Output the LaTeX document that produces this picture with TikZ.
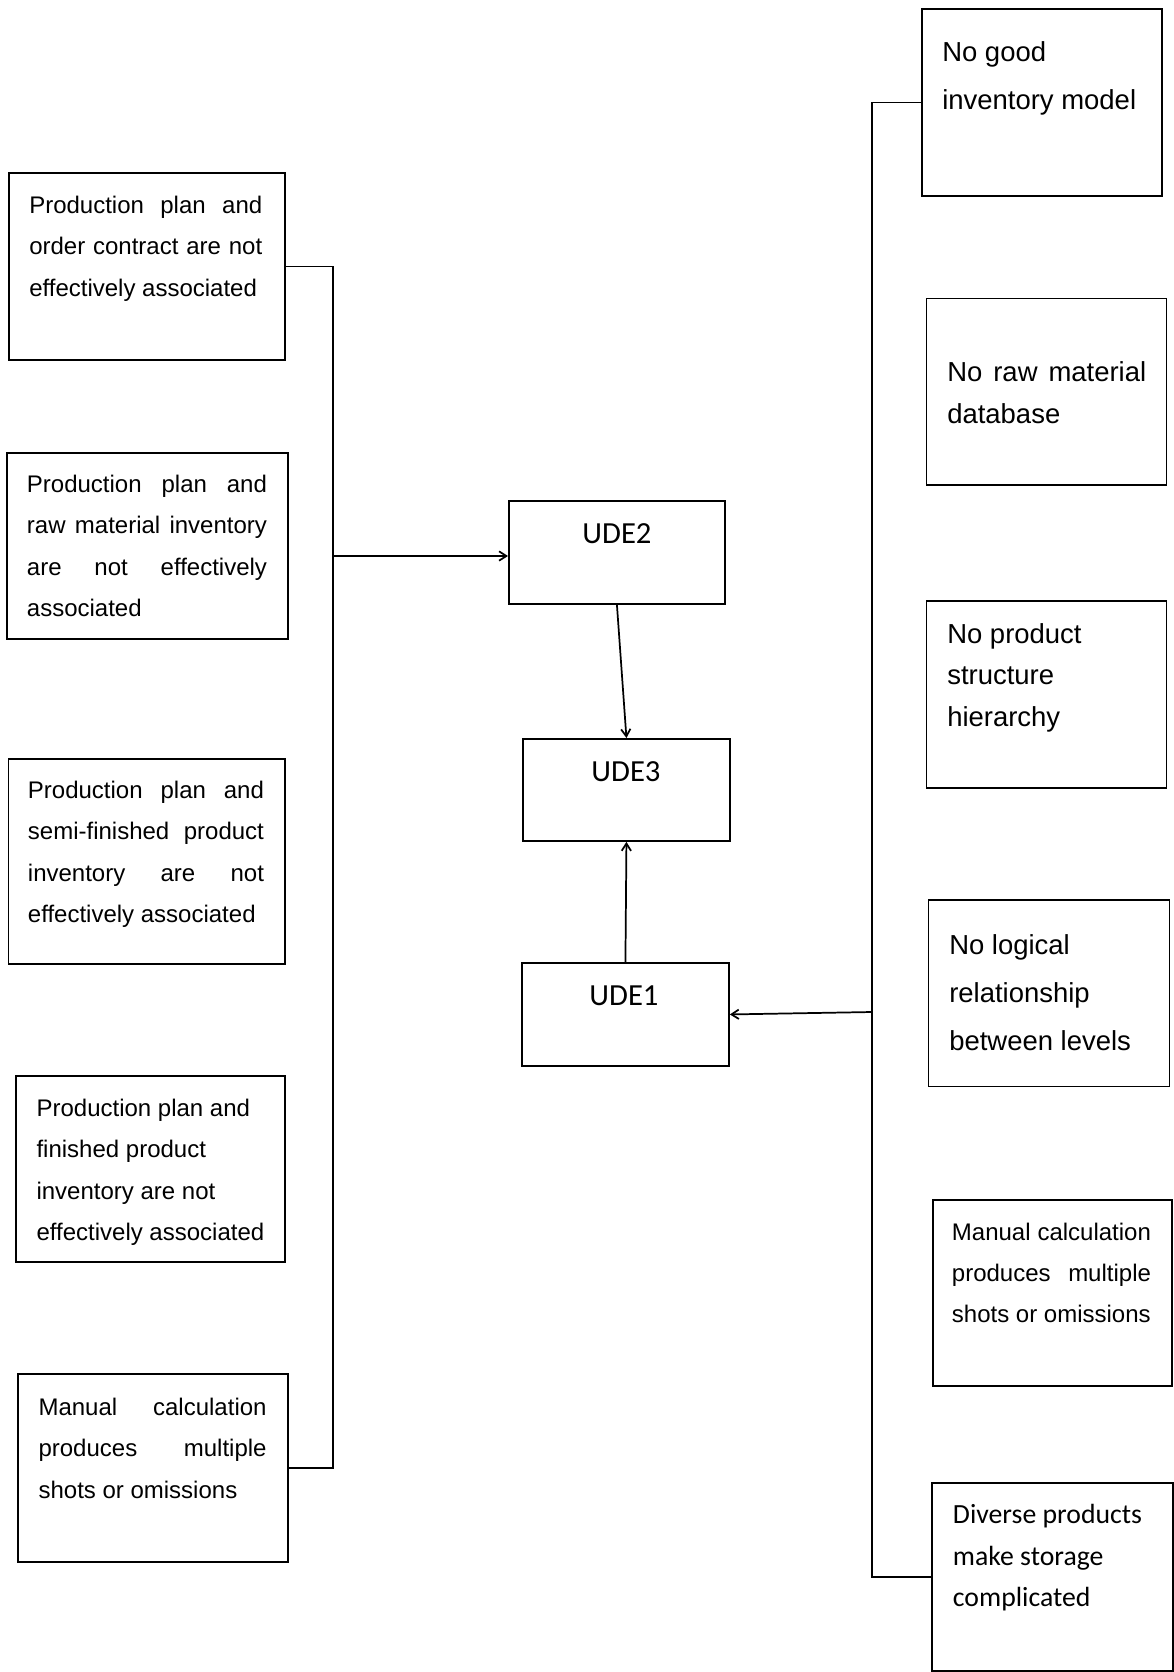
\documentclass[tikz,border=0pt]{standalone}
\usepackage{fontspec}
\setmainfont{Liberation Sans}
\newfontfamily\carlito{Carlito}
\usetikzlibrary{arrows.meta}

% one drawing unit = one pixel of the layout grid
\newdimen\upx \upx=0.75pt
% a line stretched to a given width (justified), width in grid units
\newcommand\jl[2]{\makebox[#1\upx][s]{#2}}
% a single line of a multi-line label
\newcommand\tline[1]{\hbox{#1}}
% framed box from top-left (x1,y1) to bottom-right (x2,y2)
\newcommand\boxnode[5]{\node[box, minimum width={(#4-#2)*0.75pt}, minimum height={(#5-#3)*0.75pt}] (#1) at (#2,#3) {};}

\tikzset{
  box/.style={draw, line width=1.4pt, inner sep=0pt, anchor=north west},
  txt/.style={anchor=base west, inner sep=0pt},
  lefttxt/.style={txt, font=\fontsize{18pt}{31.2pt}\selectfont},
  bigtxt/.style={txt, font=\fontsize{20.6pt}{#1}\selectfont},
  calctxt/.style={txt, font=\fontsize{18pt}{30.8pt}\selectfont},
  caltxt/.style={txt, font=\carlito\fontsize{20.8pt}{31.2pt}\selectfont},
  udetxt/.style={anchor=base, inner sep=0pt, font=\carlito\fontsize{23pt}{28pt}\selectfont},
  link/.style={line width=1.4pt},
  arr/.style={line width=1.3pt, -{Straight Barb[length=5.5pt,width=7pt]}},
}

\begin{document}
\begin{tikzpicture}[x=0.75pt, y=-0.75pt]
\fill[white] (0,0) rectangle (1174,1672);
\useasboundingbox (0,0) rectangle (1174,1672);

% left column of causes
\boxnode{l1}{8}{172}{284}{359}
\boxnode{l2}{6}{452}{287}{638}
\boxnode{l3}{7.5}{758}{284}{963}
\boxnode{l4}{15}{1075}{284}{1261}
\boxnode{l5}{17}{1373}{287}{1561}

\node[lefttxt] (l1t) at (29,213) {\vtop{%
  \tline{\jl{233}{Production plan and}}
  \tline{\jl{233}{order contract are not}}
  \tline{effectively associated}}};
\node[lefttxt] (l2t) at (26.7,492) {\vtop{%
  \tline{\jl{240}{Production plan and}}
  \tline{\jl{240}{raw material inventory}}
  \tline{\jl{240}{are not effectively}}
  \tline{associated}}};
\node[lefttxt] (l3t) at (27.7,798) {\vtop{%
  \tline{\jl{236}{Production plan and}}
  \tline{\jl{236}{semi-finished product}}
  \tline{\jl{236}{inventory are not}}
  \tline{effectively associated}}};
\node[lefttxt] (l4t) at (36.3,1116) {\vtop{%
  \tline{Production plan and}
  \tline{finished product}
  \tline{inventory are not}
  \tline{effectively associated}}};
\node[lefttxt] (l5t) at (38.3,1415) {\vtop{%
  \tline{\jl{228}{Manual calculation}}
  \tline{\jl{228}{produces multiple}}
  \tline{shots or omissions}}};

% central chain
\boxnode{ude2}{508}{500}{724}{603}
\boxnode{ude3}{522}{738}{729}{840}
\boxnode{ude1}{521}{962}{728}{1065}
\node[udetxt] (u2t) at (617,543) {UDE2};
\node[udetxt] (u3t) at (626,781) {UDE3};
\node[udetxt] (u1t) at (624,1005) {UDE1};

% right column of causes
\boxnode{r1}{921}{8}{1161}{195}
\boxnode{r2}{925.5}{297.5}{1165.5}{484}
\boxnode{r3}{925.5}{600}{1165.5}{787}
\boxnode{r4}{927.6}{899}{1168.6}{1085.5}
\boxnode{r5}{932}{1199}{1171}{1385}
\boxnode{r6}{931}{1482}{1172}{1670}

\node[bigtxt=36pt] (r1t) at (942,61.5) {\vtop{%
  \tline{No good}
  \tline{inventory model}}};
\node[bigtxt=32pt] (r2t) at (947,381) {\vtop{%
  \tline{\jl{199}{No raw material}}
  \tline{database}}};
\node[bigtxt=31.2pt] (r3t) at (947,643) {\vtop{%
  \tline{No product}
  \tline{structure}
  \tline{hierarchy}}};
\node[bigtxt=36pt] (r4t) at (949,954) {\vtop{%
  \tline{No logical}
  \tline{relationship}
  \tline{between levels}}};
\node[calctxt] (r5t) at (951.7,1240) {\vtop{%
  \tline{\jl{199}{Manual calculation}}
  \tline{\jl{199}{produces multiple}}
  \tline{shots or omissions}}};
\node[caltxt] (r6t) at (952.7,1523.5) {\vtop{%
  \tline{Diverse products}
  \tline{make storage}
  \tline{complicated}}};

% collecting lines and arrows
\coordinate (lbus) at (333,556);
\draw[link] (l1.east) -| (lbus) |- (l5.east);
\draw[arr] (lbus) -- (lbus -| ude2.west);
\draw[arr] (ude2.south) -- (ude3.north);
\draw[arr] (ude1.north) -- (ude3.south);

\coordinate (rbus) at (872,1012);
\draw[link] (r1.west) -| (rbus) |- (r6.west);
\draw[arr] (rbus) -- (ude1.east);
\end{tikzpicture}
\end{document}
